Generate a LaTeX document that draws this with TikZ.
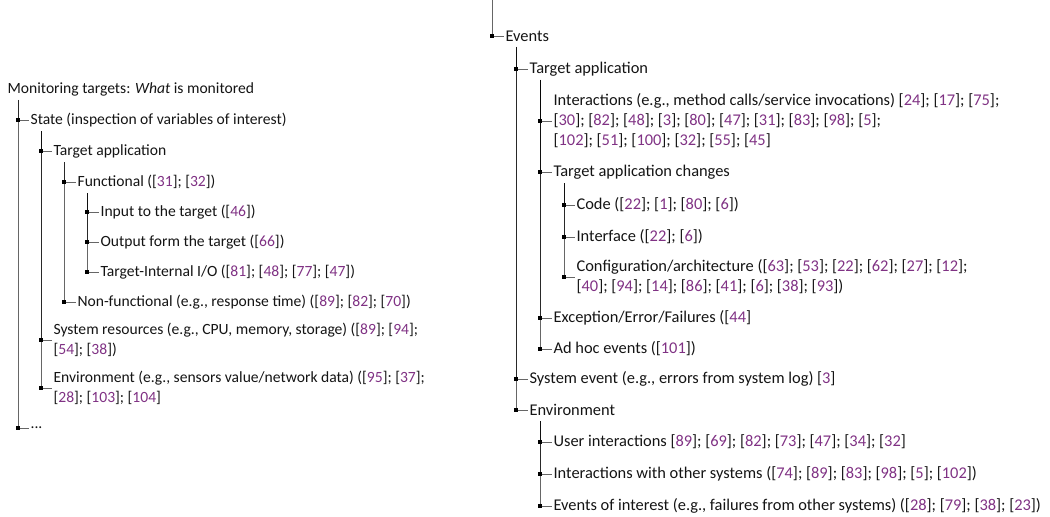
\documentclass[tikz,border=0pt]{standalone}
\usepackage{fontspec}
\setmainfont{Carlito}
\definecolor{citec}{RGB}{128,50,132}
\definecolor{txt}{RGB}{20,20,20}
\newcommand{\ct}[1]{[\textcolor{citec}{#1}]}
\newcommand{\branch}[2]{%
  \draw[edge] (#1) |- (#2.west);
  \fill[black] (#1 |- #2.west) ++(-2.1,-2.1) rectangle ++(4.2,4.2);}
\begin{document}
\begin{tikzpicture}[x=0.75pt,y=-0.75pt,
  lbl/.style={anchor=west,inner sep=1pt,align=left,text=txt},
  lblL/.style={lbl,font=\fontsize{11.7pt}{14.6pt}\selectfont},
  lblR/.style={lbl,font=\fontsize{12.3pt}{15pt}\selectfont},
  edge/.style={draw=black,opacity=0.6,line width=0.7pt}]
\useasboundingbox (0,0) rectangle (1050,517);
% ---------------- left tree ----------------
\node[lblL] (root) at (6,89) {Monitoring targets: \textit{What} is monitored};
\node[lblL] (state) at (29,120) {State (inspection of variables of interest)};
\node[lblL] (tapp) at (52,151) {Target application};
\node[lblL] (func) at (76,182) {Functional (\ct{31}; \ct{32})};
\node[lblL] (input) at (99,212) {Input to the target (\ct{46})};
\node[lblL] (output) at (99,242) {Output form the target (\ct{66})};
\node[lblL] (internal) at (99,272) {Target-Internal I/O (\ct{81}; \ct{48}; \ct{77}; \ct{47})};
\node[lblL] (nonfunc) at (76,302) {Non-functional (e.g., response time) (\ct{89}; \ct{82}; \ct{70})};
\node[lblL] (sysres) at (52,340) {System resources (e.g., CPU, memory, storage) (\ct{89}; \ct{94};\\ \ct{54}; \ct{38})};
\node[lblL] (envL) at (52,388) {Environment (e.g., sensors value/network data) (\ct{95}; \ct{37};\\ \ct{28}; \ct{103}; \ct{104}};
\node[lblL] (dots) at (29,428) {...};
\coordinate (rootV) at (18,100);
\coordinate (stateV) at (41,131);
\coordinate (tappV) at (64,162);
\coordinate (funcV) at (87,193);
\branch{rootV}{state}
\branch{rootV}{dots}
\branch{stateV}{tapp}
\branch{stateV}{sysres}
\branch{stateV}{envL}
\branch{tappV}{func}
\branch{tappV}{nonfunc}
\branch{funcV}{input}
\branch{funcV}{output}
\branch{funcV}{internal}
% ---------------- right tree ----------------
\coordinate (top) at (492,0);
\node[lblR] (events) at (504,36) {Events};
\node[lblR] (tappR) at (528,69) {Target application};
\node[lblR] (inter) at (552,121) {Interactions (e.g., method calls/service invocations) \ct{24}; \ct{17}; \ct{75};\\ \ct{30}; \ct{82}; \ct{48}; \ct{3}; \ct{80}; \ct{47}; \ct{31}; \ct{83}; \ct{98}; \ct{5};\\ \ct{102}; \ct{51}; \ct{100}; \ct{32}; \ct{55}; \ct{45}};
\node[lblR] (tac) at (552,172) {Target application changes};
\node[lblR] (code) at (575,205) {Code (\ct{22}; \ct{1}; \ct{80}; \ct{6})};
\node[lblR] (iface) at (575,237) {Interface (\ct{22}; \ct{6})};
\node[lblR] (config) at (575,277) {Configuration/architecture (\ct{63}; \ct{53}; \ct{22}; \ct{62}; \ct{27}; \ct{12};\\ \ct{40}; \ct{94}; \ct{14}; \ct{86}; \ct{41}; \ct{6}; \ct{38}; \ct{93})};
\node[lblR] (exc) at (552,318) {Exception/Error/Failures (\ct{44}};
\node[lblR] (adhoc) at (552,349) {Ad hoc events (\ct{101})};
\node[lblR] (sysev) at (528,379) {System event (e.g., errors from system log) \ct{3}};
\node[lblR] (envR) at (528,410) {Environment};
\node[lblR] (user) at (552,442) {User interactions \ct{89}; \ct{69}; \ct{82}; \ct{73}; \ct{47}; \ct{34}; \ct{32}};
\node[lblR] (other) at (552,474) {Interactions with other systems (\ct{74}; \ct{89}; \ct{83}; \ct{98}; \ct{5}; \ct{102})};
\node[lblR] (interest) at (552,506) {Events of interest (e.g., failures from other systems) (\ct{28}; \ct{79}; \ct{38}; \ct{23})};
\coordinate (eventsV) at (516,47);
\coordinate (tappRV) at (540,80);
\coordinate (tacV) at (564,183);
\coordinate (envRV) at (540,421);
\branch{top}{events}
\branch{eventsV}{tappR}
\branch{eventsV}{sysev}
\branch{eventsV}{envR}
\branch{tappRV}{inter}
\branch{tappRV}{tac}
\branch{tappRV}{exc}
\branch{tappRV}{adhoc}
\branch{tacV}{code}
\branch{tacV}{iface}
\branch{tacV}{config}
\branch{envRV}{user}
\branch{envRV}{other}
\branch{envRV}{interest}
\end{tikzpicture}
\end{document}
